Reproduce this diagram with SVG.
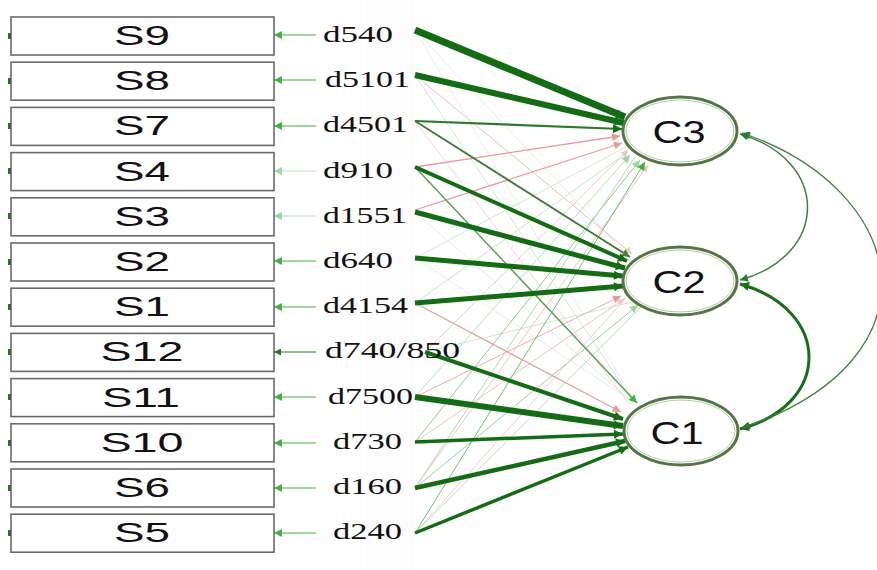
<svg xmlns="http://www.w3.org/2000/svg" width="877" height="570" viewBox="0 0 877 570">
<defs>
<style>
.box{fill:#fff;stroke:#6a6a6a;stroke-width:1.6}
.bt{font-family:"Liberation Sans",Arial,sans-serif;font-size:28px;fill:#111;text-anchor:middle}
.dt{font-family:"Liberation Serif","Times New Roman",serif;font-size:23px;fill:#111}
.ct{font-family:"Liberation Sans",Arial,sans-serif;font-size:31px;fill:#111;text-anchor:middle}
.ell{fill:#fff;stroke:#557548;stroke-width:3}
.ell2{fill:none;stroke:#b5cba8;stroke-width:1}
.tick{fill:#2e6e2e}
.c{fill:none}
</style>
<marker id="aD" viewBox="0 0 10 10" refX="10" refY="5" markerWidth="13" markerHeight="9" markerUnits="userSpaceOnUse" orient="auto"><path d="M0,0L10,5L0,10z" fill="#136b13"/></marker>
<marker id="aM" viewBox="0 0 10 10" refX="10" refY="5" markerWidth="11" markerHeight="8" markerUnits="userSpaceOnUse" orient="auto"><path d="M0,0L10,5L0,10z" fill="#3c8a3c"/></marker>
<marker id="aG" viewBox="0 0 10 10" refX="10" refY="5" markerWidth="11" markerHeight="8" markerUnits="userSpaceOnUse" orient="auto"><path d="M0,0L10,5L0,10z" fill="#43b043"/></marker>
<marker id="aL" viewBox="0 0 10 10" refX="10" refY="5" markerWidth="11" markerHeight="8" markerUnits="userSpaceOnUse" orient="auto"><path d="M0,0L10,5L0,10z" fill="#9ed49e"/></marker>
<marker id="aP" viewBox="0 0 10 10" refX="10" refY="5" markerWidth="11" markerHeight="8" markerUnits="userSpaceOnUse" orient="auto"><path d="M0,0L10,5L0,10z" fill="#e79a9a"/></marker>
<marker id="aF" viewBox="0 0 10 10" refX="10" refY="5" markerWidth="10" markerHeight="7" markerUnits="userSpaceOnUse" orient="auto"><path d="M0,0L10,5L0,10z" fill="#f2c4c4"/></marker>
<marker id="aK" viewBox="0 0 10 10" refX="10" refY="5" markerWidth="10" markerHeight="7" markerUnits="userSpaceOnUse" orient="auto"><path d="M0,0L10,5L0,10z" fill="#1f7a1f"/></marker>
<marker id="aC" viewBox="0 0 10 10" refX="10" refY="5" markerWidth="11" markerHeight="8" markerUnits="userSpaceOnUse" orient="auto-start-reverse"><path d="M0,0L10,5L0,10z" fill="#2f7a2f"/></marker>
<marker id="aC2" viewBox="0 0 10 10" refX="10" refY="5" markerWidth="13" markerHeight="9" markerUnits="userSpaceOnUse" orient="auto-start-reverse"><path d="M0,0L10,5L0,10z" fill="#1a6e1a"/></marker>
</defs>
<rect width="877" height="570" fill="#fff"/>
<rect x="366" y="0" width="49" height="570" fill="#fcfcfc"/>

<g id="connectors">
<g stroke-width="1" class="c">
<line x1="415" y1="30" x2="628" y2="256" stroke="#dfecdf"/>
<line x1="415" y1="30" x2="635" y2="402" stroke="#e6f0e6"/>
<line x1="415" y1="75" x2="632" y2="254" stroke="#efbcbc" marker-end="url(#aF)"/>
<line x1="415" y1="75" x2="633" y2="401" stroke="#d2e6d2"/>
<line x1="415" y1="121" x2="630" y2="405" stroke="#f2d4d4"/>
<line x1="415" y1="258" x2="626" y2="147" stroke="#d0e8d0"/>
<line x1="415" y1="258" x2="630" y2="400" stroke="#e2ede2"/>
<line x1="415" y1="303" x2="628" y2="152" stroke="#c8e3c8"/>
<line x1="415" y1="212" x2="632" y2="402" stroke="#dfecdf"/>
<line x1="425" y1="352" x2="628" y2="150" stroke="#f1c8c8" marker-end="url(#aF)"/>
<line x1="425" y1="352" x2="632" y2="302" stroke="#cde7cd"/>
<line x1="415" y1="397" x2="630" y2="155" stroke="#b8dfb8" marker-end="url(#aL)"/>
<line x1="415" y1="397" x2="621" y2="296" stroke="#eeaeae" marker-end="url(#aP)"/>
<line x1="415" y1="442" x2="624" y2="299" stroke="#f0c0c0" marker-end="url(#aF)"/>
<line x1="415" y1="442" x2="640" y2="160" stroke="#8ec98e" marker-end="url(#aL)"/>
<line x1="415" y1="488" x2="635" y2="157" stroke="#b0d9b0"/>
<line x1="415" y1="488" x2="638" y2="305" stroke="#9ad19a" marker-end="url(#aL)"/>
<line x1="415" y1="488" x2="648" y2="165" stroke="#f0c6c6" marker-end="url(#aF)"/>
<line x1="415" y1="533" x2="645" y2="162" stroke="#6fbf6f" marker-end="url(#aG)"/>
<line x1="415" y1="533" x2="642" y2="306" stroke="#bde1bd"/>
<line x1="415" y1="533" x2="626" y2="298" stroke="#f1cccc"/>
</g>
<line x1="415" y1="167" x2="620" y2="136" stroke="#e79a9a" stroke-width="1.3" marker-end="url(#aP)"/>
<line x1="415" y1="210" x2="622" y2="143" stroke="#e79a9a" stroke-width="1.2" marker-end="url(#aP)"/>
<line x1="415" y1="303" x2="621" y2="412" stroke="#dea0a0" stroke-width="1.2" marker-end="url(#aP)"/>
<line x1="415" y1="121" x2="630" y2="257" stroke="#3d7a3d" stroke-width="1.8" marker-end="url(#aM)"/>
<line x1="415" y1="167" x2="637" y2="403" stroke="#5aa05a" stroke-width="1.5" marker-end="url(#aG)"/>
<g stroke="#136b13" class="c" marker-end="url(#aD)">
<line x1="415" y1="30" x2="625" y2="117" stroke-width="7"/>
<line x1="415" y1="75" x2="624" y2="123" stroke-width="6"/>
<line x1="415" y1="121" x2="622" y2="129" stroke-width="2.2" stroke="#2b7a2b"/>
<line x1="415" y1="167" x2="627" y2="261" stroke-width="4"/>
<line x1="415" y1="212" x2="625" y2="268" stroke-width="5"/>
<line x1="415" y1="258" x2="623" y2="276" stroke-width="5"/>
<line x1="415" y1="303" x2="623" y2="286" stroke-width="5"/>
<line x1="425" y1="352" x2="623" y2="419" stroke-width="4"/>
<line x1="415" y1="397" x2="623" y2="426" stroke-width="6"/>
<line x1="415" y1="442" x2="623" y2="434" stroke-width="3.5"/>
<line x1="415" y1="488" x2="625" y2="441" stroke-width="4.5"/>
<line x1="415" y1="533" x2="628" y2="447" stroke-width="3.5"/>
</g>
<g stroke-width="1.2" class="c">
<line x1="316" y1="35" x2="274" y2="35" stroke="#43b043" marker-end="url(#aG)"/>
<line x1="316" y1="80" x2="274" y2="80" stroke="#43b043" marker-end="url(#aG)"/>
<line x1="316" y1="126" x2="274" y2="126" stroke="#43b043" marker-end="url(#aG)"/>
<line x1="316" y1="171" x2="274" y2="171" stroke="#b8e0b8" marker-end="url(#aL)"/>
<line x1="316" y1="216" x2="274" y2="216" stroke="#b8e0b8" marker-end="url(#aL)"/>
<line x1="316" y1="261" x2="274" y2="261" stroke="#43b043" marker-end="url(#aG)"/>
<line x1="316" y1="307" x2="274" y2="307" stroke="#43b043" marker-end="url(#aG)"/>
<line x1="316" y1="352" x2="274" y2="352" stroke="#1f7a1f" marker-end="url(#aK)"/>
<line x1="316" y1="397" x2="274" y2="397" stroke="#43b043" marker-end="url(#aG)"/>
<line x1="316" y1="443" x2="274" y2="443" stroke="#43b043" marker-end="url(#aG)"/>
<line x1="316" y1="488" x2="274" y2="488" stroke="#43b043" marker-end="url(#aG)"/>
<line x1="316" y1="533" x2="274" y2="533" stroke="#43b043" marker-end="url(#aG)"/>
</g>
<path d="M740,134 C830,160 830,255 740,280" class="c" stroke="#3f7f3f" stroke-width="1.5" marker-start="url(#aC)" marker-end="url(#aC)"/>
<path d="M740,284 C832,310 832,405 740,429" class="c" stroke="#1a6e1a" stroke-width="3" marker-start="url(#aC2)" marker-end="url(#aC2)"/>
<path d="M742,133 C910,190 945,360 742,428" class="c" stroke="#3f7f3f" stroke-width="1.3" marker-start="url(#aC)" marker-end="url(#aC)"/>
</g>

<g id="S9"><rect class="box" x="11" y="17" width="263" height="38"/><rect class="tick" x="8" y="33" width="3" height="6"/><text class="bt" x="142" y="45" textLength="56" lengthAdjust="spacingAndGlyphs">S9</text></g>
<g id="S8"><rect class="box" x="11" y="62.2" width="263" height="38"/><rect class="tick" x="8" y="78" width="3" height="6"/><text class="bt" x="142" y="90.2" textLength="56" lengthAdjust="spacingAndGlyphs">S8</text></g>
<g id="S7"><rect class="box" x="11" y="107.4" width="263" height="38"/><rect class="tick" x="8" y="123" width="3" height="6"/><text class="bt" x="142" y="135.4" textLength="56" lengthAdjust="spacingAndGlyphs">S7</text></g>
<g id="S4"><rect class="box" x="11" y="152.6" width="263" height="38"/><rect class="tick" x="8" y="168" width="3" height="6"/><text class="bt" x="142" y="180.6" textLength="56" lengthAdjust="spacingAndGlyphs">S4</text></g>
<g id="S3"><rect class="box" x="11" y="197.8" width="263" height="38"/><rect class="tick" x="8" y="213" width="3" height="6"/><text class="bt" x="142" y="225.8" textLength="56" lengthAdjust="spacingAndGlyphs">S3</text></g>
<g id="S2"><rect class="box" x="11" y="243" width="263" height="38"/><rect class="tick" x="8" y="259" width="3" height="6"/><text class="bt" x="142" y="271" textLength="56" lengthAdjust="spacingAndGlyphs">S2</text></g>
<g id="S1"><rect class="box" x="11" y="288.2" width="263" height="38"/><rect class="tick" x="8" y="304" width="3" height="6"/><text class="bt" x="142" y="316.2" textLength="56" lengthAdjust="spacingAndGlyphs">S1</text></g>
<g id="S12"><rect class="box" x="11" y="333.4" width="263" height="38"/><rect class="tick" x="8" y="349" width="3" height="6"/><text class="bt" x="142" y="361.4" textLength="83" lengthAdjust="spacingAndGlyphs">S12</text></g>
<g id="S11"><rect class="box" x="11" y="378.6" width="263" height="38"/><rect class="tick" x="8" y="394" width="3" height="6"/><text class="bt" x="141" y="406.6" textLength="78" lengthAdjust="spacingAndGlyphs">S11</text></g>
<g id="S10"><rect class="box" x="11" y="423.8" width="263" height="38"/><rect class="tick" x="8" y="440" width="3" height="6"/><text class="bt" x="142" y="451.8" textLength="83" lengthAdjust="spacingAndGlyphs">S10</text></g>
<g id="S6"><rect class="box" x="11" y="469" width="263" height="38"/><rect class="tick" x="8" y="485" width="3" height="6"/><text class="bt" x="142" y="497" textLength="56" lengthAdjust="spacingAndGlyphs">S6</text></g>
<g id="S5"><rect class="box" x="11" y="514.2" width="263" height="38"/><rect class="tick" x="8" y="530" width="3" height="6"/><text class="bt" x="142" y="542.2" textLength="56" lengthAdjust="spacingAndGlyphs">S5</text></g>

<g id="d540"><text class="dt" x="323" y="42" textLength="70" lengthAdjust="spacingAndGlyphs">d540</text></g>
<g id="d5101"><text class="dt" x="325" y="87.2" textLength="85" lengthAdjust="spacingAndGlyphs">d5101</text></g>
<g id="d4501"><text class="dt" x="323" y="132.4" textLength="85" lengthAdjust="spacingAndGlyphs">d4501</text></g>
<g id="d910"><text class="dt" x="323" y="177.6" textLength="70" lengthAdjust="spacingAndGlyphs">d910</text></g>
<g id="d1551"><text class="dt" x="323" y="222.8" textLength="84" lengthAdjust="spacingAndGlyphs">d1551</text></g>
<g id="d640"><text class="dt" x="323" y="268" textLength="70" lengthAdjust="spacingAndGlyphs">d640</text></g>
<g id="d4154"><text class="dt" x="323" y="313.2" textLength="85" lengthAdjust="spacingAndGlyphs">d4154</text></g>
<g id="d740_850"><text class="dt" x="325" y="358.4" textLength="135" lengthAdjust="spacingAndGlyphs">d740/850</text></g>
<g id="d7500"><text class="dt" x="328" y="403.6" textLength="85" lengthAdjust="spacingAndGlyphs">d7500</text></g>
<g id="d730"><text class="dt" x="333" y="448.8" textLength="69" lengthAdjust="spacingAndGlyphs">d730</text></g>
<g id="d160"><text class="dt" x="333" y="494" textLength="69" lengthAdjust="spacingAndGlyphs">d160</text></g>
<g id="d240"><text class="dt" x="333" y="539.2" textLength="69" lengthAdjust="spacingAndGlyphs">d240</text></g>

<g id="C3"><ellipse class="ell" cx="680" cy="131" rx="57" ry="34"/><ellipse class="ell2" cx="680" cy="131" rx="54" ry="31"/><text class="ct" x="679" y="143" textLength="53" lengthAdjust="spacingAndGlyphs">C3</text></g>
<g id="C2"><ellipse class="ell" cx="680" cy="281" rx="57" ry="34"/><ellipse class="ell2" cx="680" cy="281" rx="54" ry="31"/><text class="ct" x="679" y="293" textLength="53" lengthAdjust="spacingAndGlyphs">C2</text></g>
<g id="C1"><ellipse class="ell" cx="681" cy="431" rx="57" ry="34"/><ellipse class="ell2" cx="681" cy="431" rx="54" ry="31"/><text class="ct" x="677" y="444" textLength="53" lengthAdjust="spacingAndGlyphs">C1</text></g>
</svg>
